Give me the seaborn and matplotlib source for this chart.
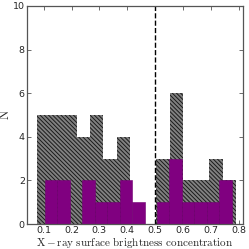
import numpy as np
import pandas as pd
import matplotlib
matplotlib.use("Agg")
import matplotlib.pyplot as plt
import seaborn as sns

# --- data ---
# full sample (grey, hatched): 15 bins
all_lo, all_hi = 0.076, 0.790
all_counts = [5, 5, 5, 4, 5, 3, 4, 0, 0, 3, 6, 2, 2, 3, 2]

# sub-sample (purple): 15 bins
sub_lo, sub_hi = 0.105, 0.774
sub_counts = [2, 2, 0, 2, 1, 1, 2, 1, 0, 1, 3, 1, 1, 1, 2]

split_value = 0.5
x_ticks = [0.1, 0.2, 0.3, 0.4, 0.5, 0.6, 0.7, 0.8]
y_ticks = [0, 2, 4, 6, 8, 10]


def binned(lo, hi, counts):
    edges = np.linspace(lo, hi, len(counts) + 1)
    mid = 0.5 * (edges[:-1] + edges[1:])
    return pd.DataFrame({"x": mid, "n": counts})


sns.set_style("ticks")
plt.rcParams["mathtext.fontset"] = "cm"
plt.rcParams["hatch.color"] = "#1a1a1a"
plt.rcParams["hatch.linewidth"] = 0.7

fig = plt.figure(figsize=(2.49, 2.49), dpi=100)
ax = fig.add_axes([0.108, 0.100, 0.869, 0.876])

df_all = binned(all_lo, all_hi, all_counts)
sns.histplot(data=df_all, x="x", weights="n", bins=len(all_counts),
             binrange=(all_lo, all_hi), ax=ax, color="#808080", alpha=1,
             hatch="\\" * 8, edgecolor="#1a1a1a", linewidth=0)

df_sub = binned(sub_lo, sub_hi, sub_counts)
sns.histplot(data=df_sub, x="x", weights="n", bins=len(sub_counts),
             binrange=(sub_lo, sub_hi), ax=ax, color="#800080", alpha=1,
             edgecolor="#700070", linewidth=0.4)

ax.axvline(split_value, color="k", ls="--", lw=1)

ax.set_xlim(0.04, 0.816)
ax.set_ylim(0, 10)
ax.set_xticks(x_ticks)
ax.set_yticks(y_ticks)
ax.set_xticklabels([f"{t:.1f}" for t in x_ticks])
ax.tick_params(direction="in", top=True, right=True, length=3, width=0.6,
               labelsize=6.8, pad=1.5, color="#555555")
for s in ax.spines.values():
    s.set_color("#555555")
    s.set_linewidth(0.9)

ax.set_xlabel(r"$\mathrm{X-ray\ surface\ brightness\ concentration}$",
              fontsize=8)
ax.set_ylabel(r"$\mathrm{N}$", fontsize=9)
ax.xaxis.set_label_coords(0.5, -0.052)
ax.yaxis.set_label_coords(-0.068, 0.5)

fig.savefig("out.png", dpi=100)
